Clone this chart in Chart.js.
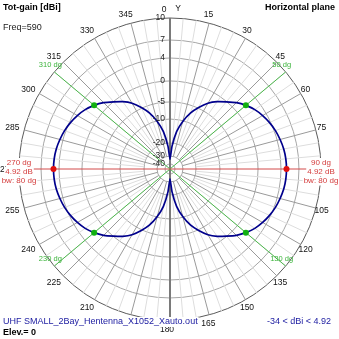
<!DOCTYPE html>
<html>
<head>
<meta charset="utf-8">
<script src="https://cdn.jsdelivr.net/npm/chart.js@4"></script>
<style>
  html, body { margin: 0; padding: 0; background: #fff; }
  #wrap { width: 339px; height: 339px; }
</style>
</head>
<body>
<div id="wrap"><canvas id="c" width="339" height="339"></canvas></div>
<script>
// Azimuth (deg, clockwise from Y) and total gain (dBi), horizontal plane
const azimuthDeg = [0,5,10,15,20,25,30,35,40,45,50,55,60,65,70,75,80,85,
  90,95,100,105,110,115,120,125,130,135,140,145,150,155,160,165,170,175,
  180,185,190,195,200,205,210,215,220,225,230,235,240,245,250,255,260,265,
  270,275,280,285,290,295,300,305,310,315,320,325,330,335,340,345,350,355];
const gainDbi = [-34,-22.5,-15,-10.3,-7.2,-4.8,-2.9,-1.4,-0.1,1.0,1.92,2.7,3.3,3.8,4.2,4.5,4.75,4.88,
  4.92,4.88,4.75,4.5,4.2,3.8,3.3,2.7,1.92,1.0,-0.1,-1.4,-2.9,-4.8,-7.2,-10.3,-15,-22.5,
  -34,-22.5,-15,-10.3,-7.2,-4.8,-2.9,-1.4,-0.1,1.0,1.92,2.7,3.3,3.8,4.2,4.5,4.75,4.88,
  4.92,4.88,4.75,4.5,4.2,3.8,3.3,2.7,1.92,1.0,-0.1,-1.4,-2.9,-4.8,-7.2,-10.3,-15,-22.5];

// Radial dB rings and their place on the compressed radius (fraction of outer ring)
const ringDbi  = [10, 7, 4, 0, -5, -10, -20, -30, -40];
const ringFrac = [1, 0.854, 0.735, 0.583, 0.444, 0.331, 0.172, 0.086, 0.033];

// Main lobe peaks and -3 dB beamwidth points
const peakAz = [90, 270];
const peakDbi = 4.92;
const beamwidthDeg = 80;
const bwAz = [50, 130, 230, 310];
const bwDbi = 1.92;
const minDbi = -34;

// Angle labels every 15 degrees
const angleLabels = ['0','15','30','45','60','75','90','105','120','135','150','165',
  '180','195','210','225','240','255','270','285','300','315','330','345'];

function dbToFrac(d) {
  if (d >= ringDbi[0]) return 1;
  for (let i = 0; i < ringDbi.length - 1; i++) {
    const a = ringDbi[i], b = ringDbi[i + 1];
    if (d <= a && d >= b) {
      const t = (a - d) / (a - b);
      return ringFrac[i] + t * (ringFrac[i + 1] - ringFrac[i]);
    }
  }
  const last = ringDbi[ringDbi.length - 1];
  return Math.max(0, ringFrac[ringFrac.length - 1] * (1 - (last - d) / 10));
}

const STEP = 5;
const FONT = '"Liberation Sans", Arial, sans-serif';

const polarDecor = {
  id: 'polarDecor',
  beforeDatasetsDraw(chart) {
    const s = chart.scales.r;
    const g = chart.ctx;
    const R = s.drawingArea;
    const cx = s.xCenter, cy = s.yCenter;
    g.save();
    // spokes: strong every 15 deg, faint every 5 deg
    for (let i = 0; i < 360 / STEP; i++) {
      const a = i * STEP;
      if (a % 90 === 0) continue;
      const major = a % 15 === 0;
      const r0 = R * dbToFrac(major ? -30 : -20);
      const p0 = s.getPointPosition(i, r0);
      const p1 = s.getPointPosition(i, R);
      g.strokeStyle = major ? '#9a9a9a' : '#dddddd';
      g.lineWidth = 1;
      g.beginPath(); g.moveTo(p0.x, p0.y); g.lineTo(p1.x, p1.y); g.stroke();
    }
    // Y axis
    const top = s.getPointPosition(0, R), bot = s.getPointPosition(180 / STEP, R + 2);
    g.strokeStyle = '#7a7a7a'; g.lineWidth = 2;
    g.beginPath(); g.moveTo(top.x, top.y); g.lineTo(bot.x, bot.y); g.stroke();
    // beamwidth lines
    g.strokeStyle = '#4cb84c'; g.lineWidth = 1;
    bwAz.forEach(a => {
      const p = s.getPointPosition(a / STEP, R);
      g.beginPath(); g.moveTo(cx, cy); g.lineTo(p.x, p.y); g.stroke();
    });
    // peak direction line
    const pl = s.getPointPosition(peakAz[1] / STEP, R), pr = s.getPointPosition(peakAz[0] / STEP, R);
    g.strokeStyle = '#d24a4a';
    g.beginPath(); g.moveTo(pl.x, pl.y); g.lineTo(pr.x, pr.y); g.stroke();
    g.restore();
  },
  afterDatasetsDraw(chart) {
    const s = chart.scales.r;
    const g = chart.ctx;
    const R = s.drawingArea;
    const cx = s.xCenter, cy = s.yCenter;
    g.save();
    // markers
    const dot = (a, d, col) => {
      const p = s.getPointPositionForValue(a / STEP, dbToFrac(d));
      g.fillStyle = col;
      g.beginPath(); g.arc(p.x, p.y, 3, 0, Math.PI * 2); g.fill();
    };
    peakAz.forEach(a => dot(a, peakDbi, '#e01010'));
    bwAz.forEach(a => dot(a, bwDbi, '#10b010'));

    // ring labels
    g.font = '8.5px ' + FONT;
    g.fillStyle = '#222';
    g.textAlign = 'right'; g.textBaseline = 'middle';
    ringDbi.forEach(d => {
      g.fillText(String(d), cx - 5, cy - R * dbToFrac(d));
    });

    // angle labels
    g.font = '8.5px ' + FONT;
    g.fillStyle = '#111';
    g.textAlign = 'center'; g.textBaseline = 'middle';
    angleLabels.forEach((t, k) => {
      const p = s.getPointPosition(k * 15 / STEP, R + 9);
      const dx = k === 0 ? -6 : -3;
      g.fillText(t, p.x + dx, p.y + 0.5);
    });
    g.fillText('Y', cx + 8, cy - R - 9);

    // beamwidth labels
    g.font = '7.5px ' + FONT;
    g.fillStyle = '#3cb43c';
    bwAz.forEach(a => {
      const p = s.getPointPosition(a / STEP, R);
      g.fillText(a + ' dg', p.x - 4, p.y - 7);
    });

    // peak labels with white backing
    g.font = '8px ' + FONT;
    peakAz.forEach(a => {
      const p = s.getPointPosition(a / STEP, R);
      const lines = [a + ' dg', peakDbi.toFixed(2) + ' dB', 'bw: ' + beamwidthDeg + ' dg'];
      const ys = [p.y - 6.5, p.y + 2.5, p.y + 12];
      lines.forEach((t, i) => {
        const w = g.measureText(t).width;
        g.fillStyle = '#fff';
        g.fillRect(p.x - w / 2 - 1, ys[i] - 4.5, w + 2, 9);
        g.fillStyle = '#d43c3c';
        g.fillText(t, p.x, ys[i]);
      });
    });

    // header and footer text
    g.textBaseline = 'middle';
    g.textAlign = 'left';
    g.fillStyle = '#000';
    g.font = 'bold 9px ' + FONT;
    g.fillText('Tot-gain [dBi]', 3, 8);
    g.textAlign = 'right';
    g.fillText('Horizontal plane', 335, 8);
    g.textAlign = 'left';
    g.font = '9px ' + FONT;
    g.fillStyle = '#222';
    g.fillText('Freq=590', 3, 28);

    const fname = 'UHF SMALL_2Bay_Hentenna_X1052_Xauto.out';
    g.font = '9px ' + FONT;
    const fw = g.measureText(fname).width;
    g.fillStyle = '#fff';
    g.fillRect(2, 317, fw + 2, 10);
    g.fillStyle = '#1a1aa0';
    g.fillText(fname, 3, 322);
    g.textAlign = 'right';
    g.fillText(minDbi + ' < dBi < ' + peakDbi.toFixed(2), 331, 322);
    g.textAlign = 'left';
    g.fillStyle = '#000';
    g.font = 'bold 9px ' + FONT;
    g.fillText('Elev.= 0', 3, 333);
    g.restore();
  }
};

new Chart(document.getElementById('c'), {
  type: 'radar',
  data: {
    labels: azimuthDeg.map(String),
    datasets: [{
      data: gainDbi.map(dbToFrac),
      borderColor: '#00008c',
      borderWidth: 1.7,
      pointRadius: 0,
      fill: false,
      tension: 0.12
    }]
  },
  options: {
    responsive: false,
    animation: false,
    events: [],
    layout: { padding: { left: 19, top: 18, right: 18, bottom: 19 } },
    plugins: { legend: { display: false }, tooltip: { enabled: false } },
    scales: {
      r: {
        min: 0,
        max: 1,
        afterBuildTicks(scale) {
          scale.ticks = [{ value: 0 }].concat(ringDbi.map(d => ({ value: dbToFrac(d) })));
        },
        ticks: { display: false },
        grid: {
          circular: true,
          color: ctx => (ctx.index === 1 ? '#5a5a5a' : '#a6a6a6'),
          lineWidth: 1
        },
        angleLines: { display: false },
        pointLabels: { display: false }
      }
    }
  },
  plugins: [polarDecor]
});
</script>
</body>
</html>
